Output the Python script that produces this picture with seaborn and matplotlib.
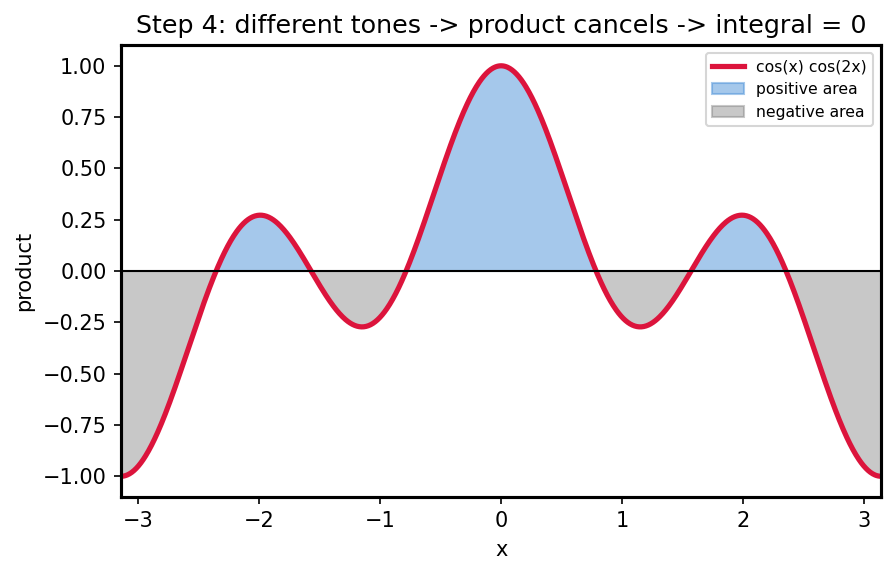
import numpy as np
import pandas as pd
import seaborn as sns
import matplotlib.pyplot as plt

# the plotted function, as named in the legend: cos(x) cos(2x) on [-pi, pi]
x = np.linspace(-np.pi, np.pi, 1000)
product = np.cos(x) * np.cos(2 * x)
df = pd.DataFrame({"x": x, "product": product})

title = "Step 4: different tones -> product cancels -> integral = 0"
xticks = [-3, -2, -1, 0, 1, 2, 3]
yticks = [-1.00, -0.75, -0.50, -0.25, 0.00, 0.25, 0.50, 0.75, 1.00]

fig, ax = plt.subplots(figsize=(5.96, 3.82), dpi=150)
fig.subplots_adjust(left=0.1355, right=0.9855, top=0.921, bottom=0.133)

ax.fill_between(df["x"], df["product"], 0, where=df["product"] >= 0,
                color="#4d92d8", alpha=0.5, label="positive area", interpolate=True)
ax.fill_between(df["x"], df["product"], 0, where=df["product"] < 0,
                color="gray", alpha=0.43, label="negative area", interpolate=True)
sns.lineplot(data=df, x="x", y="product", ax=ax, color="crimson", lw=2.5,
             label="cos(x) cos(2x)")
ax.axhline(0, color="black", lw=1)

ax.set_xlim(-np.pi, np.pi)
ax.set_ylim(-1.1, 1.1)
ax.set_xticks(xticks)
ax.set_yticks(yticks)
ax.set_xlabel("x")
ax.set_ylabel("product")
ax.set_title(title, fontsize=12.2)
for s in ax.spines.values():
    s.set_linewidth(1.5)

h, l = ax.get_legend_handles_labels()
order = [l.index("cos(x) cos(2x)"), l.index("positive area"), l.index("negative area")]
ax.legend([h[i] for i in order], [l[i] for i in order], loc="upper right", fontsize=7.5)

fig.savefig("out.png", dpi=150)
